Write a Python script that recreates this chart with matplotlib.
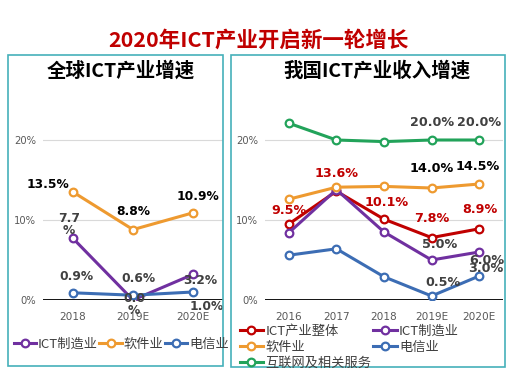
import matplotlib
matplotlib.use('Agg')
import matplotlib.pyplot as plt
from matplotlib.patches import Rectangle

plt.rcParams['font.family'] = ['Noto Sans CJK SC', 'DejaVu Sans']

W, H = 511, 379

# ---- data ----
TITLE = "2020年ICT产业开启新一轮增长"

left_title = "全球ICT产业增速"
left_cats = ["2018", "2019E", "2020E"]
left_mfg = [7.7, 0.0, 3.2]        # ICT制造业
left_soft = [13.5, 8.8, 10.9]     # 软件业
left_tel = [0.9, 0.6, 1.0]        # 电信业

right_title = "我国ICT产业收入增速"
right_cats = ["2016", "2017", "2018", "2019E", "2020E"]
right_total = [9.5, 13.6, 10.1, 7.8, 8.9]     # ICT产业整体
right_mfg = [8.4, 13.8, 8.5, 5.0, 6.0]        # ICT制造业
right_soft = [12.6, 14.1, 14.2, 14.0, 14.5]   # 软件业
right_tel = [5.6, 6.4, 2.9, 0.5, 3.0]         # 电信业
right_net = [22.1, 20.0, 19.8, 20.0, 20.0]    # 互联网及相关服务

yticks = [0, 10, 20]

# ---- style ----
RED = '#C00000'
PURPLE = '#7030A0'
ORANGE = '#EE9A30'
BLUE = '#3C6DB4'
GREEN = '#22A35A'
BORDER = '#45B0BA'
DARK = '#404040'


def px(x, y):
    return x / W, 1 - y / H


def box(fig, x0, y0, x1, y1):
    fig.patches.append(Rectangle(px(x0, y1), (x1 - x0) / W, (y1 - y0) / H,
                                 transform=fig.transFigure, fill=False,
                                 edgecolor=BORDER, lw=1.2))


def series(ax, vals, color, label):
    return ax.plot(range(len(vals)), vals, color=color, lw=2.2, marker='o',
                   ms=5.5, mfc='white', mec=color, mew=1.6, label=label,
                   zorder=3)[0]


def label(ax, i, v, dx, dy, color, size, text=None):
    if text is None:
        text = f"{v:.1f}%"
    ax.annotate(text, (i, v), xytext=(dx, dy), textcoords='offset pixels',
                ha='center', va='center', color=color, fontsize=size,
                fontweight='bold', family='DejaVu Sans', zorder=5,
                linespacing=0.9)


def setup(ax, cats):
    ax.set_xlim(-0.5, len(cats) - 0.5)
    ax.set_ylim(0, 25)
    ax.set_yticks(yticks)
    ax.set_yticklabels([f"{t}%" for t in yticks], family='DejaVu Sans',
                       fontsize=7.2, color='#595959')
    ax.set_xticks(range(len(cats)))
    ax.set_xticklabels(cats, family='DejaVu Sans', fontsize=7.6, color='#595959')
    ax.tick_params(length=0, pad=5)
    ax.tick_params(axis='x', pad=9)
    for s in ax.spines.values():
        s.set_visible(False)
    for t in yticks[1:]:
        ax.axhline(t, color='#D9D9D9', lw=0.8, zorder=1)
    ax.axhline(0, color='black', lw=1.3, zorder=2)
    ax.patch.set_alpha(0)


fig = plt.figure(figsize=(W / 100, H / 100), dpi=100)

fig.text(*px(258, 40), TITLE, ha='center', va='center', fontsize=15.5,
         fontweight='bold', color=RED)

box(fig, 8, 55, 223, 366)
box(fig, 231, 55, 505, 367)

fig.text(*px(121, 71), left_title, ha='center', va='center', fontsize=14,
         fontweight='bold', color='black')
fig.text(*px(377, 71), right_title, ha='center', va='center', fontsize=14,
         fontweight='bold', color='black')

# ---- left panel ----
axl = fig.add_axes([43 / W, 79 / H, 180 / W, 200 / H])
setup(axl, left_cats)
h1 = series(axl, left_mfg, PURPLE, "ICT制造业")
h2 = series(axl, left_soft, ORANGE, "软件业")
h3 = series(axl, left_tel, BLUE, "电信业")

ls = 8.8
label(axl, 0, left_soft[0], -25, 7, 'black', ls)
label(axl, 1, left_soft[1], 0, 18, 'black', ls)
label(axl, 2, left_soft[2], 5, 16, 'black', ls)
label(axl, 0, left_mfg[0], -4, 14, DARK, ls, text=f"{left_mfg[0]:.1f}\n%")
label(axl, 1, left_mfg[1], 1, -4, DARK, ls, text=f"{left_mfg[1]:.1f}\n%")
label(axl, 2, left_mfg[2], 7, -6, DARK, ls)
label(axl, 0, left_tel[0], 3, 16, DARK, ls)
label(axl, 1, left_tel[1], 5, 17, DARK, ls)
label(axl, 2, left_tel[2], 14, -14, DARK, ls)

fig.legend(handles=[h1, h2, h3], loc='center left',
           bbox_to_anchor=px(7, 344), ncol=3, frameon=False,
           prop={'size': 9.5}, handlelength=1.7, handletextpad=0.15,
           columnspacing=0.1, borderpad=0, labelcolor='#404040')

# ---- right panel ----
axr = fig.add_axes([265 / W, 79 / H, 238 / W, 200 / H])
setup(axr, right_cats)
r1 = series(axr, right_total, RED, "ICT产业整体")
r2 = series(axr, right_mfg, PURPLE, "ICT制造业")
r3 = series(axr, right_soft, ORANGE, "软件业")
r4 = series(axr, right_tel, BLUE, "电信业")
r5 = series(axr, right_net, GREEN, "互联网及相关服务")

rs = 9.2
for i, (dx, dy) in enumerate([(0, 14), (0, 18), (3, 17), (0, 19), (1, 19)]):
    label(axr, i, right_total[i], dx, dy, RED, rs)
label(axr, 3, right_mfg[3], 8, 15, DARK, rs)
label(axr, 4, right_mfg[4], 8, -9, DARK, rs)
label(axr, 3, right_tel[3], 11, 14, DARK, rs)
label(axr, 4, right_tel[4], 7, 7, DARK, rs)
label(axr, 3, right_soft[3], 0, 19, 'black', rs)
label(axr, 4, right_soft[4], -2, 18, 'black', rs)
label(axr, 3, right_net[3], 0, 17, DARK, rs)
label(axr, 4, right_net[4], 0, 17, DARK, rs)

fig.legend(handles=[r1, r3, r5, r2, r4], loc='upper left',
           bbox_to_anchor=px(233, 318), ncol=2, frameon=False,
           prop={'size': 9.5}, handlelength=1.8, handletextpad=0.15,
           columnspacing=0.15, labelspacing=0.22, borderpad=0,
           labelcolor='#404040')

fig.savefig("out.png", dpi=100)
